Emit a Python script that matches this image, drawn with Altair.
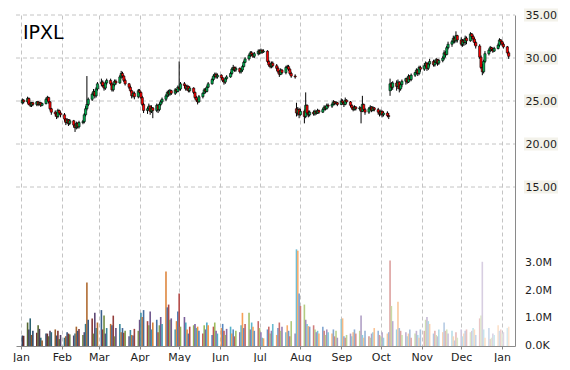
import altair as alt
import pandas as pd

TICKER = "IPXL"

# One line per trading week (Jan 2 2014 .. Jan 6 2015)
opens = [
 24.8, 25.1,
 24.9, 25.3, 24.7, 24.5, 24.8,
 24.6, 24.9, 24.6, 24.8, 24.5,
 24.7, 25.2, 25.4, 24.9, 24.1,
 23.7, 23.5, 23.2, 23.9, 23.6,
 23.4, 22.9, 22.5, 22.8, 22.4,
 22.7, 22.2, 21.9, 22.4, 22.0,
 22.5, 22.6, 23.4, 24.1, 24.6,
 25.2, 25.8, 26.1, 25.6, 26.4,
 27.0, 27.2, 26.8, 26.5, 27.1,
 27.4, 27.0, 26.3, 26.9, 27.3,
 27.1, 27.8, 28.2, 27.9, 27.4,
 27.0, 26.6, 26.2, 25.6, 25.9,
 25.5, 26.2, 26.0, 25.4, 24.6,
 23.9, 24.1, 24.4, 23.8, 24.2,
 23.9, 24.5, 24.0, 24.6, 24.9,
 25.2, 25.6, 26.0, 25.8, 26.2,
 25.9, 26.3, 26.1, 26.6, 26.4,
 27.0, 26.8, 26.4, 26.7, 26.2,
 26.5, 26.0, 25.4, 25.1, 24.9,
 25.5, 25.9, 26.3, 26.1, 26.6,
 27.0, 27.5, 27.9, 28.1, 27.8,
 28.0, 27.7, 27.4, 27.2, 27.6,
 27.8, 28.2, 28.7, 28.9, 28.6,
 28.8, 28.4, 28.6, 29.0, 29.5,
 29.9, 30.3, 30.6, 30.4, 30.2,
 30.5, 30.8, 30.6, 30.9, 30.7,
 30.8, 29.6, 29.2, 29.0, 29.4,
 29.1, 28.8, 28.4, 28.1, 28.6,
 28.3, 28.9, 29.0, 28.7, 28.2,
 27.9, 24.1, 23.6, 24.0, 23.4,
 23.8, 23.2, 24.5, 23.6, 23.4,
 23.7, 23.5, 23.8, 23.6, 23.9,
 23.7, 24.0, 24.3, 24.1, 24.5,
 24.4, 24.6, 24.9, 24.7, 24.8,
 24.6, 25.0, 24.8, 24.6, 25.1,
 24.9, 24.5, 24.2, 24.0, 24.3,
 24.1, 24.2, 23.8, 24.6, 24.0,
 23.7, 24.1, 24.3, 23.9, 24.2,
 24.0, 23.7, 23.5, 23.8, 23.4,
 23.6, 23.3, 26.2, 27.0, 26.6,
 27.1, 26.7, 27.2, 26.4, 26.9,
 27.3, 27.6, 27.2, 27.9, 27.5,
 28.0, 28.3, 28.6, 28.2, 28.9,
 28.7, 29.1, 29.4, 28.8, 29.3,
 29.6, 29.2, 29.5, 29.8, 29.4,
 29.7, 30.0, 30.6, 30.4, 31.2,
 31.6, 31.9, 32.3, 32.0, 32.6,
 32.1, 31.6, 32.0, 31.8, 32.3,
 32.0, 32.8, 32.5, 32.2, 31.8,
 31.4, 30.1, 28.9, 28.4, 29.6,
 30.5, 30.9, 31.2, 31.0, 30.8,
 31.1, 31.5, 32.1, 31.9, 31.6,
 31.3, 30.6,
]

closes = [
 25.1, 24.9,
 25.3, 24.6, 24.5, 24.8, 24.6,
 24.9, 24.6, 24.8, 24.5, 24.7,
 25.2, 25.4, 24.9, 24.1, 23.7,
 23.5, 23.2, 23.9, 23.6, 23.4,
 22.9, 22.5, 22.8, 22.4, 22.7,
 22.2, 21.9, 22.4, 22.0, 22.5,
 22.6, 23.4, 24.1, 24.6, 25.2,
 25.8, 26.1, 25.6, 26.4, 27.0,
 27.2, 26.8, 26.5, 27.1, 27.4,
 27.0, 26.3, 26.9, 27.3, 27.1,
 27.8, 28.2, 27.9, 27.4, 27.0,
 26.6, 26.2, 25.6, 25.9, 25.5,
 26.2, 26.0, 25.4, 24.6, 23.9,
 24.1, 24.4, 23.8, 24.2, 23.9,
 24.5, 24.0, 24.6, 24.9, 25.2,
 25.6, 26.0, 25.8, 26.2, 25.9,
 26.3, 26.1, 26.6, 26.4, 27.0,
 26.8, 26.4, 26.7, 26.2, 26.5,
 26.0, 25.4, 25.1, 24.9, 25.5,
 25.9, 26.3, 26.1, 26.6, 27.0,
 27.5, 27.9, 28.1, 27.8, 28.0,
 27.7, 27.4, 27.2, 27.6, 27.8,
 28.2, 28.7, 28.9, 28.6, 28.8,
 28.4, 28.6, 29.0, 29.5, 29.9,
 30.3, 30.6, 30.4, 30.2, 30.5,
 30.8, 30.6, 30.9, 30.7, 30.8,
 29.6, 29.2, 29.0, 29.4, 29.1,
 28.8, 28.4, 28.1, 28.6, 28.3,
 28.9, 29.0, 28.7, 28.2, 27.9,
 27.8, 23.6, 24.0, 23.4, 23.8,
 23.2, 24.5, 23.6, 23.4, 23.7,
 23.5, 23.8, 23.6, 23.9, 23.7,
 24.0, 24.3, 24.1, 24.5, 24.4,
 24.6, 24.9, 24.7, 24.8, 24.6,
 25.0, 24.8, 24.6, 25.1, 24.9,
 24.5, 24.2, 24.0, 24.3, 24.1,
 24.2, 23.8, 24.6, 24.0, 23.7,
 24.1, 24.3, 23.9, 24.2, 24.0,
 23.7, 23.5, 23.8, 23.4, 23.6,
 23.3, 23.2, 27.0, 26.6, 27.1,
 26.7, 27.2, 26.4, 26.9, 27.3,
 27.6, 27.2, 27.9, 27.5, 28.0,
 28.3, 28.6, 28.2, 28.9, 28.7,
 29.1, 29.4, 28.8, 29.3, 29.6,
 29.2, 29.5, 29.8, 29.4, 29.7,
 30.0, 30.6, 30.4, 31.2, 31.6,
 31.9, 32.3, 32.0, 32.6, 32.1,
 31.6, 32.0, 31.8, 32.3, 32.0,
 32.8, 32.5, 32.2, 31.8, 31.4,
 30.1, 28.9, 28.4, 29.6, 30.5,
 30.9, 31.2, 31.0, 30.8, 31.1,
 31.5, 32.1, 31.9, 31.6, 31.3,
 30.6, 30.2,
]

highs = [
 25.3, 25.2,
 25.5, 25.4, 24.9, 24.9, 24.9,
 25.0, 25.0, 24.9, 24.9, 24.8,
 25.4, 25.6, 25.5, 25.0, 24.2,
 23.9, 23.7, 24.1, 24.0, 23.8,
 23.6, 23.0, 23.0, 22.9, 22.9,
 22.8, 22.4, 22.6, 22.5, 22.7,
 22.8, 23.6, 24.4, 27.9, 25.4,
 26.0, 26.4, 26.2, 26.6, 27.2,
 27.6, 27.4, 27.0, 27.3, 27.6,
 27.6, 27.2, 27.0, 27.5, 27.5,
 28.0, 28.5, 28.4, 28.0, 27.6,
 27.1, 26.8, 26.3, 26.1, 26.1,
 26.4, 26.4, 26.1, 25.6, 24.8,
 24.3, 24.7, 24.5, 24.5, 24.3,
 24.7, 24.6, 24.8, 25.1, 25.4,
 25.8, 26.2, 26.3, 26.4, 26.3,
 26.5, 26.4, 26.8, 29.6, 27.2,
 27.2, 26.9, 26.9, 26.8, 26.7,
 26.6, 26.1, 25.6, 25.3, 25.7,
 26.0, 26.5, 26.5, 26.8, 27.2,
 27.7, 28.1, 28.3, 28.3, 28.2,
 28.1, 27.8, 27.5, 27.8, 28.0,
 28.4, 28.9, 29.2, 29.0, 29.0,
 28.9, 28.8, 29.2, 29.7, 30.1,
 30.5, 30.8, 30.8, 30.6, 30.7,
 31.0, 31.0, 31.1, 31.0, 31.0,
 30.9, 29.8, 29.4, 29.6, 29.6,
 29.3, 29.0, 28.6, 28.8, 28.7,
 29.1, 29.2, 29.2, 28.8, 28.4,
 28.1, 24.8, 24.3, 24.2, 24.1,
 24.0, 26.0, 24.6, 23.9, 23.9,
 23.9, 24.0, 23.9, 24.1, 24.0,
 24.2, 24.5, 24.4, 24.7, 24.7,
 24.8, 25.1, 25.0, 25.0, 24.9,
 25.3, 25.2, 24.9, 25.4, 25.2,
 25.0, 24.6, 24.4, 24.5, 24.4,
 24.4, 24.3, 25.6, 24.7, 24.2,
 24.3, 24.5, 24.4, 24.4, 24.3,
 24.2, 23.9, 24.0, 23.9, 23.8,
 23.8, 23.6, 27.6, 27.2, 27.3,
 27.4, 27.5, 27.3, 27.1, 27.5,
 27.7, 27.8, 28.1, 28.0, 28.2,
 28.4, 28.8, 28.7, 29.1, 29.1,
 29.4, 29.6, 29.5, 29.5, 29.9,
 29.8, 29.8, 30.0, 29.9, 29.9,
 30.2, 30.9, 30.8, 31.4, 31.9,
 32.1, 32.6, 32.5, 33.1, 32.7,
 32.4, 32.2, 32.2, 32.6, 32.5,
 33.0, 32.9, 32.7, 32.4, 32.0,
 31.6, 30.3, 29.3, 29.8, 30.8,
 31.1, 31.4, 31.3, 31.2, 31.3,
 31.7, 32.3, 32.2, 32.0, 31.8,
 31.4, 30.8,
]

lows = [
 24.6, 24.7,
 24.7, 24.5, 24.3, 24.3, 24.4,
 24.4, 24.4, 24.5, 24.3, 24.4,
 24.6, 25.0, 24.7, 23.9, 23.4,
 23.2, 22.9, 23.0, 23.4, 23.1,
 22.6, 22.2, 22.3, 22.1, 22.2,
 21.9, 21.4, 21.7, 21.8, 21.8,
 22.3, 22.4, 23.2, 23.9, 24.4,
 25.0, 25.6, 25.3, 25.4, 26.2,
 26.7, 26.6, 26.2, 26.3, 26.9,
 26.8, 26.1, 26.1, 26.7, 26.9,
 27.0, 27.6, 27.7, 27.2, 26.8,
 26.4, 26.0, 25.3, 25.4, 25.2,
 25.3, 25.8, 25.2, 24.4, 23.6,
 23.5, 23.9, 23.4, 23.6, 23.0,
 23.7, 23.6, 23.8, 24.4, 24.7,
 25.0, 25.4, 25.5, 25.6, 25.7,
 25.7, 25.9, 26.0, 26.2, 26.2,
 26.5, 26.2, 26.2, 26.0, 26.0,
 25.8, 25.2, 24.9, 24.6, 24.8,
 25.3, 25.8, 25.9, 26.0, 26.5,
 26.9, 27.3, 27.7, 27.6, 27.6,
 27.5, 27.2, 26.9, 27.0, 27.4,
 27.7, 28.0, 28.5, 28.4, 28.4,
 28.2, 28.2, 28.4, 28.9, 29.4,
 29.7, 30.1, 30.2, 30.0, 30.0,
 30.3, 30.4, 30.5, 30.5, 30.6,
 29.4, 29.0, 28.8, 28.8, 28.9,
 28.5, 28.2, 27.8, 28.0, 28.1,
 28.1, 28.7, 28.5, 28.0, 27.7,
 27.6, 23.2, 23.3, 23.0, 23.3,
 22.4, 23.0, 23.3, 23.1, 23.2,
 23.3, 23.3, 23.4, 23.5, 23.5,
 23.6, 23.9, 23.9, 24.0, 24.2,
 24.2, 24.5, 24.5, 24.6, 24.4,
 24.5, 24.6, 24.3, 24.5, 24.7,
 24.3, 24.0, 23.8, 23.9, 23.9,
 23.9, 22.4, 23.7, 23.8, 23.4,
 23.5, 23.9, 23.7, 23.8, 23.8,
 23.4, 23.2, 23.3, 23.1, 23.2,
 23.1, 22.9, 25.6, 26.2, 26.3,
 26.2, 26.4, 26.0, 26.2, 26.6,
 26.9, 27.0, 27.1, 27.3, 27.3,
 27.8, 28.1, 27.9, 28.0, 28.4,
 28.5, 28.9, 28.5, 28.6, 29.0,
 29.0, 29.0, 29.3, 29.1, 29.2,
 29.5, 29.8, 30.1, 30.3, 31.0,
 31.3, 31.7, 31.7, 31.8, 31.8,
 31.4, 31.3, 31.4, 31.5, 31.6,
 31.9, 32.2, 31.9, 31.5, 31.1,
 29.9, 28.7, 28.0, 28.2, 29.4,
 30.3, 30.7, 30.8, 30.6, 30.7,
 31.0, 31.3, 31.6, 31.4, 31.1,
 30.4, 29.9,
]

# volume in millions of shares
volumes = [
 0.38, 0.37,
 0.85, 0.60, 1.00, 0.40, 0.55,
 0.48, 0.75, 0.62, 0.30, 0.20,
 0.45, 0.45, 0.35, 0.55, 0.50,
 0.60, 0.38, 0.55, 0.25, 0.40,
 0.30, 0.35, 0.50, 0.45, 0.42,
 0.38, 0.45, 0.70, 0.55, 0.62,
 0.40, 0.50, 0.80, 2.30, 0.95,
 1.00, 0.45, 1.20, 0.65, 0.85,
 1.30, 0.60, 1.10, 0.45, 0.65,
 0.80, 0.75, 1.10, 0.35, 0.65,
 0.80, 0.50, 0.65, 0.48, 0.55,
 0.35, 0.58, 0.40, 0.38, 0.62,
 0.55, 0.95, 1.20, 1.05, 1.30,
 0.90, 0.75, 1.25, 0.60, 0.85,
 0.95, 0.50, 0.75, 1.05, 0.80,
 2.70, 1.40, 1.50, 0.95, 1.00,
 0.60, 0.90, 1.25, 1.90, 0.70,
 1.05, 0.85, 0.60, 0.45, 0.70,
 0.75, 0.80, 0.65, 0.70, 0.55,
 0.45, 0.75, 0.60, 0.85, 0.75,
 0.40, 0.70, 0.85, 0.55, 0.45,
 0.65, 0.80, 0.55, 0.40, 0.62,
 0.70, 0.45, 0.60, 0.35, 0.55,
 0.50, 0.75, 1.20, 0.65, 0.80,
 1.20, 0.60, 0.85, 0.70, 0.55,
 0.90, 0.65, 0.50, 0.30, 0.28,
 0.60, 0.70, 0.45, 0.55, 0.80,
 0.40, 0.65, 0.85, 0.55, 0.70,
 0.50, 0.75, 0.55, 0.35, 0.90,
 0.45, 3.50, 3.45, 1.90, 1.45,
 1.50, 0.95, 0.80, 0.72, 0.70,
 0.75, 0.60, 0.50, 0.55, 0.45,
 0.70, 0.55, 0.40, 0.60, 0.50,
 0.45, 0.60, 0.35, 0.55, 0.30,
 0.98, 1.00, 0.35, 0.30, 0.40,
 0.45, 0.35, 0.50, 0.60, 0.45,
 0.55, 1.10, 0.40, 0.30, 0.55,
 0.35, 0.30, 0.45, 0.50, 0.65,
 0.55, 0.40, 0.35, 0.50, 0.30,
 0.45, 0.50, 3.10, 1.45, 0.90,
 0.60, 1.60, 0.65, 0.55, 0.40,
 0.50, 0.35, 0.45, 0.60, 0.30,
 0.45, 0.55, 0.40, 0.30, 0.60,
 0.55, 0.95, 1.05, 0.90, 0.80,
 0.45, 0.55, 0.40, 0.35, 0.60,
 0.50, 0.85, 0.55, 0.60, 0.45,
 0.55, 0.35, 0.20, 0.50, 0.30,
 0.60, 0.35, 0.45, 0.55, 0.60,
 0.50, 0.55, 0.65, 0.60, 0.40,
 1.00, 1.10, 3.05, 0.60, 0.30,
 0.65, 0.25, 0.30, 0.45, 0.40,
 0.75, 0.55, 0.60, 0.45, 0.50,
 0.65, 0.70,
]

price_ticks = [15, 20, 25, 30, 35]
volume_ticks = [0, 1, 2, 3]
volume_tick_labels = ["0.0K", "1.0M", "2.0M", "3.0M"]

# ---------------------------------------------------------------- table
dates = pd.bdate_range("2014-01-02", "2015-01-06")
n = min(len(dates), len(opens), len(closes), len(highs), len(lows), len(volumes))
df = pd.DataFrame({
    "date": dates[:n],
    "open": opens[:n], "close": closes[:n],
    "high": highs[:n], "low": lows[:n],
    "volume": volumes[:n],
})
df["body_color"] = ["#00b050" if c >= o else "#ff0000" for o, c in zip(df["open"], df["close"])]

base = ["#4F81BD", "#C0504D", "#9BBB59", "#8064A2", "#4BACC6", "#F79646"]
def shade(hexc, t):
    r, g, b = (int(hexc[i:i + 2], 16) for i in (1, 3, 5))
    if t < 0:
        r, g, b = (c * (1 + t) for c in (r, g, b))
    else:
        r, g, b = (c + (255 - c) * t for c in (r, g, b))
    return "#%02x%02x%02x" % (int(r), int(g), int(b))
df["vol_color"] = [shade(base[i % 6], -0.45 + 1.2 * i / max(n - 1, 1)) for i in range(n)]

FONT = "DejaVu Sans"
GRID = "#c4c4c4"
LABEL = "#1e1e1e"

# one plot area: price occupies the upper 215/331, volume the lower 116/331
PRICE_LO = 35 - 25 * 331 / 215
VOL_HI = 4.2 * 331 / 116
price_scale = alt.Scale(domain=[PRICE_LO, 35], nice=False, zero=False)
vol_scale = alt.Scale(domain=[0, VOL_HI], nice=False, zero=True)

x_scale = alt.Scale(domain=[alt.DateTime(year=2014, month=1, date=1),
                            alt.DateTime(year=2015, month=1, date=7)])
month_ticks = {"interval": "month", "step": 1}
x_axis = alt.Axis(title=None, format="%b", tickCount=month_ticks, grid=True,
                  gridDash=[4, 3], gridColor=GRID, domainColor="#8a8a8a",
                  tickColor="#8a8a8a", tickSize=3, labelPadding=2, labelFlush=False,
                  labelOverlap=False, labelFontSize=11, labelColor=LABEL, labelFont=FONT)

price_axis = alt.Axis(orient="right", values=price_ticks, format=".2f", title=None,
                      grid=False, ticks=False, domainColor="#8a8a8a",
                      labelPadding=10, labelFontSize=11, labelColor=LABEL,
                      labelFont=FONT, zindex=1)

ticks_df = pd.DataFrame({"v": price_ticks})
hgrid = alt.Chart(ticks_df).mark_rule(color=GRID, strokeDash=[4, 3], strokeWidth=1).encode(
    y=alt.Y("v:Q", scale=price_scale, axis=price_axis, title=None),
    x=alt.value(0), x2=alt.value("width"),
)
label_bg = alt.Chart(ticks_df).mark_tick(orient="horizontal", thickness=13, size=34,
                                          color="#eeece1").encode(
    y=alt.Y("v:Q", title=None), x=alt.value({"expr": "width + 26"}),
)
wicks = alt.Chart(df).mark_rule(color="black", strokeWidth=1).encode(
    x=alt.X("date:T", scale=x_scale, axis=x_axis, title=None),
    y=alt.Y("low:Q", title=None), y2="high:Q",
)
bodies = alt.Chart(df).mark_bar(width=2.2, stroke="black", strokeWidth=0.6).encode(
    x=alt.X("date:T", title=None), y=alt.Y("open:Q", title=None), y2="close:Q",
    color=alt.Color("body_color:N", scale=None),
)
title = alt.Chart(pd.DataFrame({"t": [TICKER]})).mark_text(
    align="left", baseline="top", fontSize=19, font=FONT, color="black"
).encode(text="t:N", x=alt.value(7), y=alt.value(9))

price_layer = alt.layer(hgrid, label_bg, wicks, bodies, title)

vol_bars = alt.Chart(df).mark_bar(width=1.6).encode(
    x=alt.X("date:T", title=None),
    y=alt.Y("volume:Q", scale=vol_scale, axis=None, title=None),
    color=alt.Color("vol_color:N", scale=None),
)
vol_labels = alt.Chart(pd.DataFrame({"v": volume_ticks, "label": volume_tick_labels})).mark_text(
    align="left", baseline="middle", fontSize=11, font=FONT, color=LABEL
).encode(
    y=alt.Y("v:Q", axis=None, title=None),
    x=alt.value({"expr": "width + 10"}),
    text="label:N",
)
vol_layer = alt.layer(vol_bars, vol_labels)

chart = alt.layer(price_layer, vol_layer).resolve_scale(y="independent").properties(
    width=554, height=354,
    autosize=alt.AutoSizeParams(type="fit", contains="padding"),
    padding={"left": 4, "top": 0, "right": 4, "bottom": 0},
).configure_view(stroke=None)

chart.save("out.html", embed_options={"renderer": "svg", "actions": False})
